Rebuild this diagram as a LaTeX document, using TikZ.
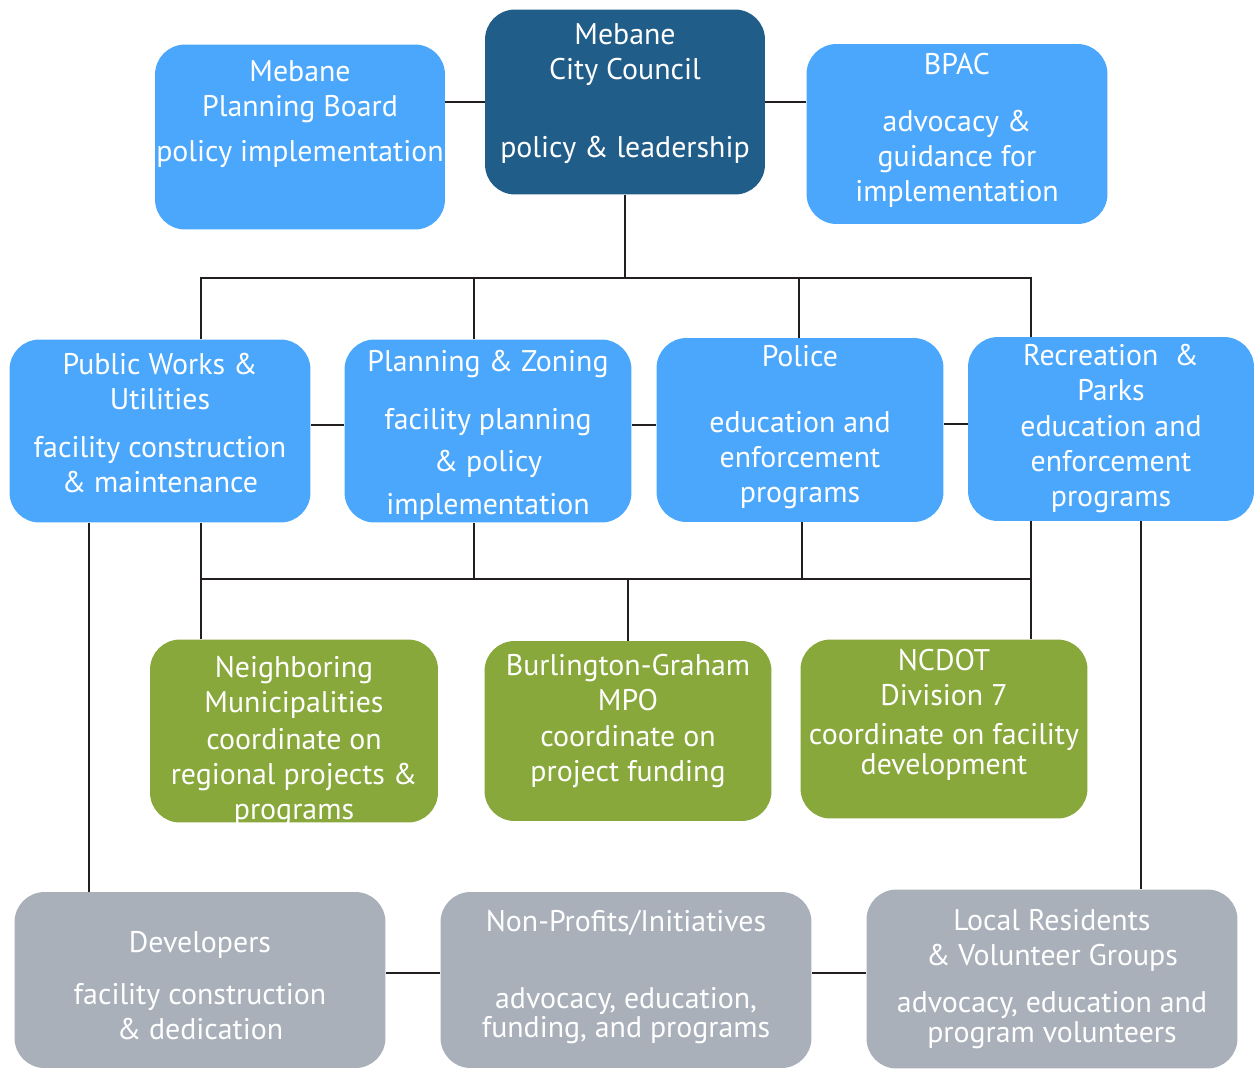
\documentclass[tikz,border=0pt]{standalone}
\usepackage{fontspec}
\setmainfont{PT Sans}
\usetikzlibrary{positioning,calc}
\definecolor{cdark}{HTML}{215D89}
\definecolor{clight}{HTML}{4BA7FC}
\definecolor{cgreen}{HTML}{88A83B}
\definecolor{cgray}{HTML}{A9B0BA}
\definecolor{cline}{HTML}{231F20}
\tikzset{
  blk/.style={rectangle,rounded corners=0.6cm,inner sep=0pt,draw=none},
  topblk/.style={blk,fill=cdark},
  deptblk/.style={blk,fill=clight},
  partblk/.style={blk,fill=cgreen},
  pubblk/.style={blk,fill=cgray},
  txt/.style={text=white,align=center,font=\fontsize{17}{19.9}\selectfont},
  lnk/.style={draw=cline,line width=1.6pt}
}
\begin{document}
\begin{tikzpicture}[x=0.02cm,y=-0.02cm]
  \useasboundingbox (0,0) rectangle (1258,1069);

  % top row
  \node[topblk, minimum width=5.6cm, minimum height=3.7cm,
    label={[txt,yshift=0.17cm]center:Mebane\\City Council\\[0.86cm]policy \& leadership}] (council) at (625,102) {};
  \node[deptblk, minimum width=5.8cm, minimum height=3.7cm,
    label={[txt,yshift=0.46cm]center:Mebane\\Planning Board\\[0.2cm]policy implementation}] (pb) at (300,137) {};
  \node[deptblk, minimum width=6.02cm, minimum height=3.6cm,
    label={[txt,yshift=0.07cm]center:BPAC\\[0.44cm]advocacy \&\\guidance for\\implementation}] (bpac) at (957,134) {};

  % departments
  \node[deptblk, minimum width=6.02cm, minimum height=3.66cm,
    label={[txt,yshift=0.16cm]center:Public Works \&\\Utilities\\[0.26cm]facility construction\\\& maintenance}] (pw) at (160,431) {};
  \node[deptblk, minimum width=5.74cm, minimum height=3.66cm,
    label={[txt,yshift=-0.09cm]center:Planning \& Zoning\\[0.46cm]facility planning\\[0.14cm]\& policy\\[0.16cm]implementation}] (pz) at (488,431) {};
  \node[deptblk, minimum width=5.74cm, minimum height=3.68cm,
    label={[txt,yshift=0.06cm]center:Police\\[0.62cm]education and\\enforcement\\programs}] (po) at (800,430) {};
  \node[deptblk, minimum width=5.72cm, minimum height=3.68cm,
    label={[txt,yshift=0.01cm]center:Recreation \ \&\\Parks\\[0.04cm]education and\\enforcement\\programs}] (rec) at (1111,429) {};

  % partners
  \node[partblk, minimum width=5.76cm, minimum height=3.66cm,
    label={[txt,yshift=-0.2cm]center:Neighboring\\Municipalities\\[0.04cm]coordinate on\\regional projects \&\\programs}] (nbr) at (294,731) {};
  \node[partblk, minimum width=5.74cm, minimum height=3.6cm,
    label={[txt,yshift=0.2cm]center:Burlington-Graham\\MPO\\[0.02cm]coordinate on\\project funding}] (mpo) at (628,731) {};
  \node[partblk, minimum width=5.74cm, minimum height=3.58cm,
    label={[txt,yshift=0.28cm]center:NCDOT\\Division 7\\[0.08cm]coordinate on facility\\[-0.1cm]development}] (ncdot) at (944,729) {};

  % public
  \node[pubblk, minimum width=7.42cm, minimum height=3.52cm,
    label={[txt,yshift=-0.11cm]center:Developers\\[0.34cm]facility construction\\\& dedication}] (dev) at (200,980) {};
  \node[pubblk, minimum width=7.42cm, minimum height=3.52cm,
    label={[txt,yshift=0.06cm]center:Non-Profits/Initiatives\\[0.84cm]advocacy, education,\\[-0.12cm]funding, and programs}] (np) at (626,980) {};
  \node[pubblk, minimum width=7.42cm, minimum height=3.58cm,
    label={[txt,yshift=-0.01cm]center:Local Residents\\\& Volunteer Groups\\[0.24cm]advocacy, education and\\[-0.1cm]program volunteers}] (loc) at (1052,979) {};

  \coordinate (bus1) at (625,278);
  \coordinate (bus2) at (628,579);

  % connectors
  \draw[lnk] (council.west) -- (council.west -| pb.east);
  \draw[lnk] (council.east) -- (council.east -| bpac.west);
  \draw[lnk] (council.south) -- (bus1);
  \foreach \n/\dx in {pw/0.82cm,pz/-0.28cm,po/-0.02cm,rec/-1.6cm}
    \draw[lnk] ([xshift=\dx]\n.north) |- (bus1);
  \foreach \n/\dx in {pw/0.82cm,pz/-0.28cm,po/0.04cm,rec/-1.6cm}
    \draw[lnk] ([xshift=\dx]\n.south) |- (bus2);
  \draw[lnk] (bus2) -- (mpo.north);
  \draw[lnk] ([xshift=-1.86cm]nbr.north) |- (bus2);
  \draw[lnk] ([xshift=1.74cm]ncdot.north) |- (bus2);
  \foreach \a/\b in {pw/pz,pz/po,po/rec}
    \draw[lnk] ([yshift=0.12cm]\a.east) -- ([yshift=0.12cm]\a.east -| \b.west);
  \draw[lnk] ([xshift=-1.42cm]pw.south) -- ([xshift=-1.42cm]pw.south |- dev.north);
  \draw[lnk] ([xshift=0.6cm]rec.south) -- ([xshift=0.6cm]rec.south |- loc.north);
  \draw[lnk] ([yshift=0.14cm]dev.east) -- ([yshift=0.14cm]dev.east -| np.west);
  \draw[lnk] ([yshift=0.14cm]np.east) -- ([yshift=0.14cm]np.east -| loc.west);
\end{tikzpicture}
\end{document}
